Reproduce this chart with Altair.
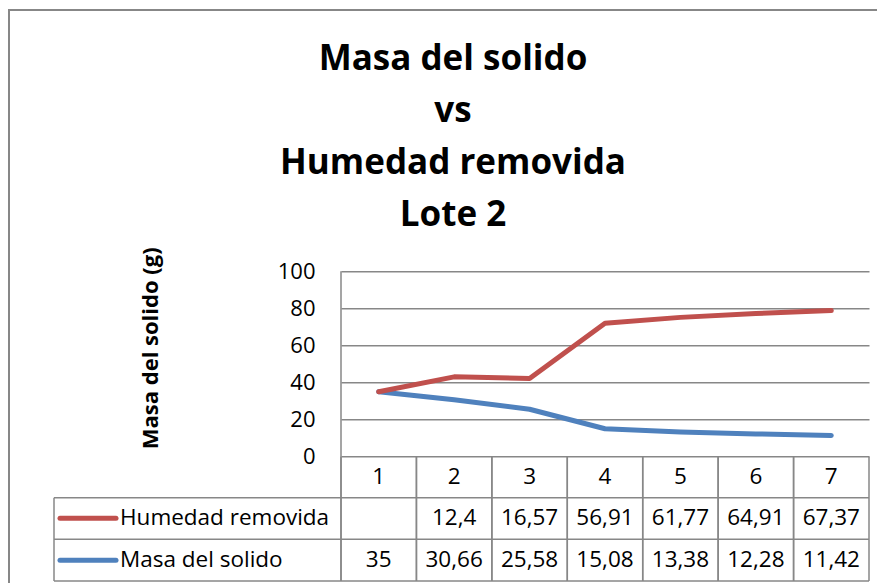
import altair as alt
import pandas as pd

categories = [1, 2, 3, 4, 5, 6, 7]
humedad = [None, 12.4, 16.57, 56.91, 61.77, 64.91, 67.37]
masa = [35, 30.66, 25.58, 15.08, 13.38, 12.28, 11.42]
series_names = ["Humedad removida", "Masa del solido"]
colors = ["#C0504D", "#4F81BD"]
y_ticks = [0, 20, 40, 60, 80, 100]
title_lines = ["Masa del solido", "vs", "Humedad removida", "Lote 2"]
y_title = "Masa del solido (g)"


def fmt(v):
    return "" if v is None else f"{v:g}".replace(".", ",")


rows = []
for i, c in enumerate(categories):
    rows.append({"cat": c, "series": "Masa del solido", "ord": 0,
                 "value": masa[i], "label": fmt(masa[i])})
    rows.append({"cat": c, "series": "Humedad removida", "ord": 1,
                 "value": humedad[i], "label": fmt(humedad[i])})
df = pd.DataFrame(rows)
cat_df = pd.DataFrame({"cat": categories, "label": [str(c) for c in categories]})
legend_df = pd.DataFrame({"series": series_names})
one = pd.DataFrame({"k": [0]})

W = 528
H = 185.4
R1 = 226.4   # bottom of category row
R2 = 268.0   # bottom of first series row
R3 = 309.7   # bottom of table
TL = -287    # table left edge
GRAY = "#878787"
FONT = "Open Sans"

xscale = alt.Scale(type="band", domain=categories, paddingInner=0, paddingOuter=0)
row_scale = alt.Scale(type="point", domain=series_names, range=[247, 289], padding=0)
color_enc = alt.Color("series:N", scale=alt.Scale(domain=series_names, range=colors), legend=None)


def xcat(bp):
    return alt.X("cat:O", scale=xscale, bandPosition=bp, axis=None)


lines = (
    alt.Chart(df)
    .transform_calculate(v="isValid(datum.value) ? datum.value : 0")
    .transform_stack(stack="v", groupby=["cat"], as_=["v0", "v1"],
                     sort=[alt.SortField("ord", order="ascending")])
    .mark_line(strokeWidth=5, strokeCap="round", strokeJoin="round")
    .encode(
        x=xcat(0.5),
        y=alt.Y("v1:Q", scale=alt.Scale(domain=[0, 100], nice=False),
                axis=alt.Axis(title=None, values=y_ticks, grid=True, gridColor=GRAY, gridWidth=1.5,
                              domain=False, ticks=False, tickSize=0, labelPadding=26,
                              labelFont=FONT, labelFontSize=22, labelColor="black")),
        color=color_enc,
        order=alt.Order("cat:O"),
    )
)

cat_text = (
    alt.Chart(cat_df)
    .mark_text(font=FONT, fontSize=22.5, align="center", baseline="middle", color="black")
    .encode(x=xcat(0.5), y=alt.value(206), text="label:N")
)

table_text = (
    alt.Chart(df)
    .mark_text(font=FONT, fontSize=22.5, align="center", baseline="middle", color="black")
    .encode(
        x=xcat(0.5),
        y=alt.Y("series:N", scale=row_scale, axis=None),
        text="label:N",
    )
)

legend_lines = (
    alt.Chart(legend_df)
    .mark_rule(strokeWidth=5, strokeCap="round")
    .encode(
        x=alt.value(-281), x2=alt.value(-225),
        y=alt.Y("series:N", scale=row_scale, axis=None),
        color=color_enc,
    )
)

legend_text = (
    alt.Chart(legend_df)
    .mark_text(font=FONT, fontSize=22.5, align="left", baseline="middle", color="black")
    .encode(
        x=alt.value(-221),
        y=alt.Y("series:N", scale=row_scale, axis=None),
        text="series:N",
    )
)

col_rules_left = (
    alt.Chart(cat_df)
    .mark_rule(color=GRAY, strokeWidth=1.5)
    .encode(x=xcat(0), y=alt.value(H), y2=alt.value(R3))
)
col_rules_right = (
    alt.Chart(cat_df)
    .mark_rule(color=GRAY, strokeWidth=1.5)
    .encode(x=xcat(1), y=alt.value(H), y2=alt.value(R3))
)


def vrule(x, y1, y2, w=1.5):
    return alt.Chart(one).mark_rule(color=GRAY, strokeWidth=w).encode(
        x=alt.value(x), y=alt.value(y1), y2=alt.value(y2))


def hrule(y, x1, x2, w=1.5):
    return alt.Chart(one).mark_rule(color=GRAY, strokeWidth=w).encode(
        y=alt.value(y), x=alt.value(x1), x2=alt.value(x2))


frame = [
    hrule(-261.3, -333, 560, 2),
    vrule(-332, -262, 330, 2),
]

structure = [
    vrule(0, 0, R3),
    hrule(R1, TL, W),
    hrule(R2, TL, W),
    hrule(R3, TL, W),
    vrule(TL, R1, R3),
]

title = (
    alt.Chart(one)
    .mark_text(text=title_lines, font=FONT, fontWeight="bold", fontSize=35,
               align="center", baseline="alphabetic", lineHeight=52, color="black")
    .encode(x=alt.value(112), y=alt.value(-201))
)

ytitle = (
    alt.Chart(one)
    .mark_text(text=y_title, font=FONT, fontWeight="bold", fontSize=22, angle=270,
               align="center", baseline="middle", color="black")
    .encode(x=alt.value(-190), y=alt.value(77))
)

chart = (
    alt.layer(*frame, *structure, col_rules_left, col_rules_right, lines, cat_text, table_text,
              legend_lines, legend_text, title, ytitle)
    .resolve_scale(y="independent")
    .properties(
        width=W, height=H,
        autosize=alt.AutoSizeParams(type="none"),
        padding={"left": 333, "top": 263.3, "right": 8, "bottom": 126.3},
        background="white",
    )
    .configure_view(stroke=None)
)

chart.save("out.html", embed_options={"renderer": "svg", "actions": False})
